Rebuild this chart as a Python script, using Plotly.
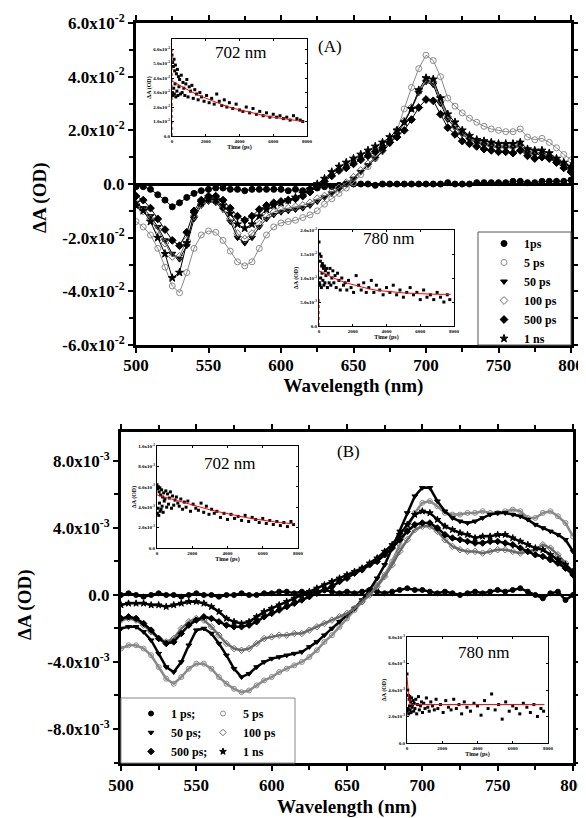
import plotly.graph_objects as go

W, H = 586, 818
SERIF = "Liberation Serif"
PAGE_OFFSET = 8  # the html body margin shifts the figure by this many pixels

wavelength = list(range(500, 801, 5))

# ---- panel (A): dA in units of 1e-2 OD ----
a_1ps = [-0.1, -0.1, -0.2, -0.4, -0.6, -0.85, -0.7, -0.5, -0.35, -0.25,
         -0.2, -0.15, -0.15, -0.2, -0.2, -0.25, -0.2, -0.2, -0.2, -0.2,
         -0.2, -0.25, -0.2, -0.25, -0.2, -0.15, -0.1, -0.1, -0.05, 0.0,
         0.0, 0.0, 0.0, -0.05, 0.0, 0.0, 0.0, 0.0, 0.0, 0.0,
         0.0, 0.0, 0.0, 0.05, 0.0, 0.0, 0.0, 0.05, 0.05, 0.05,
         0.05, 0.05, 0.1, 0.1, 0.05, 0.05, 0.1, 0.1, 0.1, 0.1,
         0.15]
a_5ps = [-1.4, -1.6, -1.9, -2.4, -3.1, -3.8, -4.05, -3.3, -2.4, -1.9,
         -1.75, -1.8, -2.1, -2.5, -2.9, -3.05, -2.9, -2.4, -1.9, -1.6,
         -1.45, -1.4, -1.35, -1.25, -1.15, -1.0, -0.75, -0.55, -0.35, -0.15,
         0.05, 0.35, 0.65, 0.95, 1.25, 1.55, 2.0, 2.8, 3.6, 4.3,
         4.8, 4.6, 4.0, 3.2, 2.9, 2.65, 2.45, 2.3, 2.15, 2.05,
         2.0, 1.95, 1.95, 2.05, 1.75, 1.65, 1.7, 1.55, 1.35, 1.1,
         0.9]
a_50ps = [-0.7, -0.9, -1.2, -1.6, -2.1, -2.6, -2.8, -2.3, -1.3, -0.8,
          -0.65, -0.7, -0.95, -1.4, -2.0, -2.2, -2.0, -1.6, -1.3, -1.15,
          -1.05, -1.0, -0.95, -0.9, -0.8, -0.65, -0.5, -0.35, -0.2, 0.0,
          0.2, 0.45, 0.7, 0.95, 1.2, 1.5, 1.85, 2.3, 2.8, 3.4,
          3.8, 3.7, 3.0, 2.4, 2.1, 1.85, 1.65, 1.55, 1.45, 1.4,
          1.35, 1.35, 1.35, 1.4, 1.15, 1.1, 1.1, 1.0, 0.85, 0.7,
          0.55]
a_100ps = [-0.75, -1.0, -1.3, -1.7, -2.2, -2.7, -2.7, -2.1, -1.2, -0.75,
           -0.6, -0.65, -0.9, -1.3, -1.85, -2.05, -1.85, -1.5, -1.2, -1.05,
           -0.95, -0.9, -0.85, -0.8, -0.7, -0.55, -0.45, -0.3, -0.15, 0.05,
           0.25, 0.5, 0.75, 1.0, 1.25, 1.55, 1.9, 2.35, 2.85, 3.45,
           3.85, 3.8, 3.1, 2.5, 2.15, 1.9, 1.7, 1.6, 1.5, 1.45,
           1.4, 1.4, 1.4, 1.45, 1.2, 1.15, 1.15, 1.05, 0.9, 0.75,
           0.6]
a_500ps = [-0.45, -0.6, -0.9, -1.3, -1.7, -2.1, -2.3, -1.8, -1.0, -0.6,
           -0.45, -0.45, -0.6, -0.9, -1.2, -1.35, -1.2, -0.95, -0.8, -0.7,
           -0.65, -0.6, -0.55, -0.45, -0.3, -0.1, 0.1, 0.3, 0.5, 0.6,
           0.75, 0.9, 1.05, 1.2, 1.35, 1.55, 1.75, 2.0, 2.4, 2.85,
           3.15, 3.1, 2.6, 2.1, 1.85, 1.6, 1.5, 1.4, 1.3, 1.25,
           1.2, 1.2, 1.15, 1.25, 1.05, 0.95, 1.0, 0.95, 0.8, 0.6,
           0.45]
a_1ns = [-0.8, -1.0, -1.4, -2.0, -2.6, -3.5, -3.3, -2.2, -1.1, -0.7,
         -0.55, -0.6, -0.8, -1.1, -1.5, -1.65, -1.5, -1.2, -0.95, -0.8,
         -0.7, -0.6, -0.5, -0.35, -0.2, 0.0, 0.2, 0.45, 0.65, 0.8,
         0.95, 1.1, 1.25, 1.4, 1.55, 1.75, 2.0, 2.3, 2.8, 3.5,
         3.95, 3.9, 3.2, 2.6, 2.3, 2.0, 1.8, 1.65, 1.6, 1.55,
         1.5, 1.5, 1.5, 1.55, 1.3, 1.25, 1.25, 1.15, 0.95, 0.8,
         0.65]

# ---- panel (B): dA in units of 1e-3 OD ----
b_1ps = [0.0, 0.1, 0.0, -0.1, 0.0, 0.1, 0.0, 0.0, -0.1, 0.0,
         0.1, 0.0, 0.0, -0.1, 0.0, 0.0, 0.1, 0.0, 0.0, 0.1,
         0.1, 0.2, 0.2, 0.1, 0.2, 0.1, 0.2, 0.3, 0.2, 0.1,
         0.2, 0.1, 0.2, 0.3, 0.2, 0.1, 0.2, 0.3, 0.4, 0.3,
         0.3, 0.2, 0.1, 0.2, 0.1, 0.0, 0.1, 0.2, 0.1, 0.2,
         0.3, 0.2, 0.3, 0.4, 0.2, 0.0, -0.2, 0.1, 0.2, -0.3,
         0.0]
b_5ps = [-3.2, -3.0, -3.0, -3.2, -3.6, -4.3, -5.0, -5.3, -4.9, -4.4,
         -4.1, -4.1, -4.4, -4.9, -5.3, -5.6, -5.8, -5.7, -5.4, -5.1,
         -4.9, -4.6, -4.4, -4.2, -4.0, -3.7, -3.3, -2.8, -2.4, -1.9,
         -1.4, -0.9, -0.4, 0.1, 0.6, 1.2, 2.0, 3.0, 4.0, 4.9,
         5.5, 5.6, 5.3, 4.9, 4.8, 4.8, 4.9, 4.9, 5.0, 4.9,
         4.9, 5.0, 5.1, 5.0, 4.6, 4.6, 4.9, 5.0, 4.7, 4.3,
         3.5]
b_50ps = [-2.0, -1.9, -1.9, -2.2, -2.7, -3.5, -4.3, -4.6, -4.0, -3.0,
          -2.1, -2.0, -2.3, -2.9, -3.6, -4.4, -4.9, -4.7, -4.3, -4.0,
          -3.8, -3.7, -3.6, -3.5, -3.4, -3.1, -2.8, -2.4, -2.0, -1.6,
          -1.2, -0.8, -0.3, 0.3, 1.0, 1.8, 2.8, 3.8, 4.9, 5.9,
          6.4, 6.4, 5.6, 5.0, 4.6, 4.4, 4.3, 4.4, 4.6, 4.8,
          4.9, 4.9, 4.8, 4.7, 4.5, 4.2, 4.0, 3.8, 3.6, 3.3,
          2.6]
b_100ps = [-1.5, -1.4, -1.5, -1.8, -2.2, -2.6, -2.8, -2.6, -2.0, -1.6,
           -1.4, -1.5, -1.9, -2.4, -2.9, -3.2, -3.3, -3.2, -2.9, -2.6,
           -2.5, -2.4, -2.4, -2.3, -2.3, -2.1, -1.9, -1.7, -1.5, -1.3,
           -1.1, -0.8, -0.4, 0.0, 0.5, 1.1, 1.8, 2.6, 3.3, 3.9,
           4.1, 4.1, 3.8, 3.3, 2.9, 2.7, 2.6, 2.6, 2.5, 2.6,
           2.7, 2.7, 2.6, 2.5, 2.6, 2.7, 3.0, 2.8, 2.4, 1.9,
           1.3]
b_500ps = [-1.4, -1.3, -1.4, -1.7, -2.1, -2.6, -2.9, -2.8, -2.3, -1.8,
           -1.5, -1.3, -1.4, -1.6, -1.8, -1.9, -1.9, -1.8, -1.6, -1.3,
           -1.1, -0.9, -0.7, -0.5, -0.3, -0.1, 0.1, 0.3, 0.5, 0.8,
           1.0, 1.3, 1.5, 1.8, 2.0, 2.4, 2.8, 3.3, 3.8, 4.2,
           4.3, 4.3, 4.0, 3.6, 3.4, 3.3, 3.2, 3.1, 3.1, 3.2,
           3.2, 3.1, 3.0, 2.8, 2.6, 2.4, 2.3, 2.1, 1.9, 1.6,
           1.2]
b_1ns = [-0.6, -0.5, -0.5, -0.5, -0.6, -0.6, -0.7, -0.6, -0.5, -0.4,
         -0.4, -0.5, -0.7, -1.0, -1.4, -1.6, -1.7, -1.6, -1.3, -1.0,
         -0.8, -0.6, -0.4, -0.2, 0.0, 0.2, 0.4, 0.6, 0.8, 1.0,
         1.2, 1.4, 1.6, 1.9, 2.2, 2.6, 3.0, 3.6, 4.2, 4.8,
         5.0, 4.9, 4.5, 4.1, 3.9, 3.7, 3.6, 3.4, 3.5, 3.5,
         3.6, 3.6, 3.4, 3.2, 3.0, 2.8, 2.7, 2.4, 2.1, 1.8,
         1.4]

# ---- inset kinetics ----
decay_time = [0, 20, 40, 60, 80, 100, 120, 140, 160, 180,
              200, 230, 260, 290, 320, 350, 380, 410, 450, 500,
              550, 600, 650, 700, 760, 820, 880, 950, 1020, 1100,
              1180, 1260, 1350, 1450, 1550, 1650, 1750, 1900, 2050, 2200,
              2350, 2500, 2650, 2800, 2950, 3100, 3250, 3400, 3600, 3800,
              4000, 4200, 4400, 4600, 4800, 5000, 5200, 5400, 5600, 5800,
              6000, 6200, 6400, 6600, 6800, 7000, 7200, 7400, 7600, 7750]
a702_kin = [5.6, 3.0, 5.1, 2.8, 4.8, 3.3, 5.3, 2.9, 4.5, 3.6,
            4.9, 2.7, 4.3, 3.1, 4.6, 2.8, 4.1, 3.4, 3.9, 2.9,
            4.2, 3.0, 3.7, 3.3, 2.8, 3.6, 3.9, 2.7, 3.4, 3.1,
            3.5, 2.6, 3.2, 2.9, 2.5, 3.0, 2.7, 2.4, 2.8, 2.3,
            2.6, 2.2, 2.9, 2.4, 2.1, 2.5, 2.0, 2.3, 1.9, 2.2,
            1.8, 1.7, 2.0, 1.6, 1.9, 1.5, 1.7, 1.4, 1.6, 1.3,
            1.5, 1.3, 1.4, 1.2, 1.3, 1.1, 1.4, 1.2, 1.1, 1.0]  # 1e-2
a780_kin = [17.5, 9.0, 15.0, 8.5, 13.5, 10.0, 14.5, 8.0, 12.5, 11.0,
            13.0, 9.5, 12.0, 8.5, 12.5, 9.0, 11.5, 10.5, 12.0, 8.0,
            11.0, 9.0, 12.0, 8.5, 10.0, 11.5, 9.0, 10.5, 8.0, 11.0,
            9.5, 7.5, 10.0, 8.5, 9.0, 7.5, 9.5, 8.0, 7.0, 10.5,
            8.5, 7.5, 9.0, 7.0, 8.0, 9.5, 7.0, 8.5, 7.5, 6.5,
            8.0, 7.0, 8.5, 6.5, 7.5, 6.0, 7.0, 8.0, 6.5, 7.0,
            5.5, 7.5, 6.0, 6.5, 5.5, 7.0, 6.0, 5.0, 6.5, 5.5]  # 1e-3
b702_kin = [6.2, 3.4, 5.8, 3.9, 6.0, 3.2, 5.5, 4.4, 5.9, 3.6,
            5.2, 3.8, 5.7, 4.1, 5.0, 3.5, 5.4, 4.6, 4.8, 5.6,
            4.0, 5.3, 4.3, 4.9, 5.5, 3.9, 5.1, 4.2, 4.7, 5.0,
            4.4, 4.1, 4.8, 3.8, 4.5, 4.0, 4.6, 3.6, 4.3, 3.9,
            3.7, 4.4, 3.5, 4.1, 3.3, 3.8, 3.4, 3.6, 3.0, 3.4,
            2.8, 3.3, 2.9, 3.1, 2.7, 3.2, 2.6, 3.0, 2.8, 2.5,
            2.9, 2.4, 2.7, 2.3, 2.6, 2.2, 2.5, 2.1, 2.6, 2.3]  # 1e-3
b780_kin = [5.2, 2.4, 4.0, 2.6, 3.6, 2.2, 3.3, 2.8, 3.5, 2.5,
            3.1, 2.3, 3.4, 2.7, 2.9, 3.2, 2.4, 3.0, 2.6, 3.3,
            2.2, 2.9, 3.5, 2.5, 2.8, 3.1, 2.3, 3.0, 2.6, 3.4,
            2.7, 2.4, 3.1, 2.8, 2.5, 3.3, 2.6, 2.9, 2.3, 3.2,
            2.7, 2.5, 3.3, 2.6, 2.9, 2.2, 3.1, 2.7, 2.4, 3.0,
            2.8, 2.1, 3.2, 2.6, 3.7, 2.5, 2.9, 1.8, 3.1, 2.4,
            2.8, 2.6, 2.2, 3.0, 2.7, 2.3, 2.9, 2.0, 2.6, 2.4]  # 1e-3

fit_time = [0, 500, 1000, 1500, 2000, 2500, 3000, 3500, 4000,
            4500, 5000, 5500, 6000, 6500, 7000, 7500, 7800]
a702_fit = [3.8, 3.45, 3.15, 2.85, 2.6, 2.35, 2.15, 1.95, 1.8,
            1.65, 1.5, 1.4, 1.3, 1.2, 1.1, 1.05, 1.0]
a780_fit = [11.5, 10.6, 9.8, 9.1, 8.6, 8.1, 7.7, 7.4, 7.2,
            7.0, 6.9, 6.8, 6.7, 6.65, 6.6, 6.6, 6.6]
b702_fit = [5.2, 4.95, 4.7, 4.45, 4.2, 4.0, 3.75, 3.55, 3.35,
            3.2, 3.0, 2.85, 2.7, 2.6, 2.5, 2.4, 2.35]
b780_fit_time = [0, 50, 100, 150, 200, 300, 500, 1000, 2000,
                 3000, 4000, 5000, 6000, 7000, 7800]
b780_fit = [5.0, 4.0, 3.4, 3.1, 2.95, 2.9, 2.9, 2.9, 2.9,
            2.9, 2.9, 2.9, 2.9, 2.9, 2.9]
# red dotted rise at t = 0 in the panel (A) insets
a702_rise = [0.0, 6.0]   # 1e-2
a780_rise = [0.0, 6.0]   # 1e-3

labels_a = ["1ps", "5 ps", "50 ps", "100 ps", "500 ps", "1 ns"]
labels_b = ["1 ps;", "5 ps", "50 ps;", "100 ps", "500 ps;", "1 ns"]

# symbol, colour
styles = [("circle", "black"), ("circle-open", "#8a8a8a"),
          ("triangle-down", "black"), ("diamond-open", "#6a6a6a"),
          ("diamond", "black"), ("star", "black")]


def px(x):
    return (x - PAGE_OFFSET) / W


def py(y):
    return 1 - (y - PAGE_OFFSET) / H


fig = go.Figure()

# panel (A) spectra
for lab, vals, (sym, col) in zip(labels_a, [a_1ps, a_5ps, a_50ps, a_100ps, a_500ps, a_1ns], styles):
    yv = [v * 1e-2 for v in vals]
    fig.add_trace(go.Scatter(x=wavelength, y=yv, mode="lines", line=dict(color=col, width=1),
                             showlegend=False, xaxis="x", yaxis="y", hoverinfo="skip"))
    fig.add_trace(go.Scatter(x=wavelength, y=yv, mode="markers", name=lab, legend="legend",
                             marker=dict(symbol=sym, color=col, size=6, line=dict(width=1, color=col)),
                             xaxis="x", yaxis="y"))

# panel (B) spectra
for i, (lab, vals, (sym, col)) in enumerate(zip(labels_b, [b_1ps, b_5ps, b_50ps, b_100ps, b_500ps, b_1ns], styles)):
    yv = [v * 1e-3 for v in vals]
    fig.add_trace(go.Scatter(x=wavelength, y=yv, mode="lines", line=dict(color=col, width=2.5),
                             showlegend=False, xaxis="x2", yaxis="y2", hoverinfo="skip"))
    fig.add_trace(go.Scatter(x=wavelength, y=yv, mode="markers", name=lab,
                             legend="legend2" if i % 2 == 0 else "legend3",
                             marker=dict(symbol=sym, color=col, size=5, line=dict(width=1, color=col)),
                             xaxis="x2", yaxis="y2"))

# insets
insets = [
    ("x3", "y3", a702_kin, 1e-2, fit_time, a702_fit, a702_rise),
    ("x4", "y4", a780_kin, 1e-3, fit_time, a780_fit, a780_rise),
    ("x5", "y5", b702_kin, 1e-3, fit_time, b702_fit, None),
    ("x6", "y6", b780_kin, 1e-3, b780_fit_time, b780_fit, None),
]
for xa, ya, kin, scale, ft, fv, rise in insets:
    fig.add_trace(go.Scatter(x=decay_time, y=[v * scale for v in kin], mode="markers",
                             marker=dict(symbol="square", color="black", size=3),
                             showlegend=False, xaxis=xa, yaxis=ya))
    fig.add_trace(go.Scatter(x=ft, y=[v * scale for v in fv], mode="lines",
                             line=dict(color="red", width=1), showlegend=False, xaxis=xa, yaxis=ya))
    if rise is not None:
        fig.add_trace(go.Scatter(x=[0, 0], y=[v * scale for v in rise],
                                 mode="lines", line=dict(color="red", width=1.2, dash="dot"),
                                 showlegend=False, xaxis=xa, yaxis=ya))

tickfont = dict(family=SERIF, size=17, color="black", weight="bold")
main_ax = dict(showline=True, linewidth=3, linecolor="black", mirror="ticks",
               ticks="outside", ticklen=5, tickwidth=2, tickcolor="black",
               showgrid=False, tickfont=tickfont, automargin=False)


def sup(m, e):
    return "%sx10<sup>%d</sup>" % (m, e)


ya_vals = [-0.06, -0.04, -0.02, 0.0, 0.02, 0.04, 0.06]
ya_text = [sup("-6.0", -2), sup("-4.0", -2), sup("-2.0", -2), "0.0",
           sup("2.0", -2), sup("4.0", -2), sup("6.0", -2)]
yb_vals = [-0.008, -0.004, 0.0, 0.004, 0.008]
yb_text = [sup("-8.0", -3), sup("-4.0", -3), "0.0", sup("4.0", -3), sup("8.0", -3)]
x_vals = [500, 550, 600, 650, 700, 750, 800]

xtitle_font = dict(family=SERIF, size=19, color="black", weight="bold")
minor_x = dict(tickmode="linear", tick0=500, dtick=25, ticks="outside",
               ticklen=4, tickwidth=2, tickcolor="black")

fig.update_layout(
    xaxis=dict(main_ax, domain=[px(136), px(571)], range=[500, 800], anchor="y",
               tickvals=x_vals, minor=minor_x, ticklabelstandoff=-2,
               title=dict(text="Wavelength (nm)", font=xtitle_font, standoff=0)),
    yaxis=dict(main_ax, domain=[py(345), py(23)], range=[-0.06, 0.06], anchor="x",
               tickvals=ya_vals, ticktext=ya_text, zeroline=True, zerolinecolor="black",
               zerolinewidth=3,
               minor=dict(tickmode="linear", tick0=0, dtick=0.01, ticks="outside",
                          ticklen=4, tickwidth=2, tickcolor="black")),
    xaxis2=dict(main_ax, domain=[px(121), px(573)], range=[500, 800], anchor="y2",
                tickvals=x_vals, minor=minor_x,
                title=dict(text="Wavelength (nm)", font=xtitle_font, standoff=6)),
    yaxis2=dict(main_ax, domain=[py(763), py(432)], range=[-0.01003, 0.00973], anchor="x2",
                tickvals=yb_vals, ticktext=yb_text, zeroline=True, zerolinecolor="black",
                zerolinewidth=2,
                minor=dict(tickmode="linear", tick0=0, dtick=0.002, ticks="outside",
                           ticklen=4, tickwidth=2, tickcolor="black")),
)

inset_font = dict(family=SERIF, size=5, color="black", weight="bold")
inset_title_font = dict(family=SERIF, size=6, color="black", weight="bold")
inset_ax = dict(showline=True, linewidth=1, linecolor="black", mirror="ticks",
                ticks="inside", ticklen=2, tickwidth=0.6, tickcolor="black",
                showgrid=False, zeroline=False, tickfont=inset_font, automargin=False)
t_vals = [0, 2000, 4000, 6000, 8000]

inset_specs = [
    # axis number, left, top, right, bottom (px), y max, y ticks
    (3, 172, 39, 307, 136, 0.067, [0, 0.01, 0.02, 0.03, 0.04, 0.05, 0.06],
     ["0.0"] + [sup("%.1f" % v, -2) for v in [1, 2, 3, 4, 5, 6]]),
    (4, 319, 230, 454, 326, 0.02, [0, 0.005, 0.01, 0.015, 0.02],
     ["0.0", sup("5.0", -3), sup("1.0", -2), sup("1.5", -2), sup("2.0", -2)]),
    (5, 157, 446, 298, 548, 0.01, [0, 0.002, 0.004, 0.006, 0.008, 0.01],
     ["0.0", sup("2.0", -3), sup("4.0", -3), sup("6.0", -3), sup("8.0", -3), sup("1.0", -2)]),
    (6, 407, 637, 548, 743, 0.008, [0, 0.002, 0.004, 0.006, 0.008],
     ["0.0", sup("2.0", -3), sup("4.0", -3), sup("6.0", -3), sup("8.0", -3)]),
]
for n, l, t, r, b, ymax, yv, yt in inset_specs:
    fig.update_layout({
        "xaxis%d" % n: dict(inset_ax, domain=[px(l), px(r)], range=[0, 8000], anchor="y%d" % n,
                            tickvals=t_vals,
                            title=dict(text="Time (ps)", font=inset_title_font, standoff=0)),
        "yaxis%d" % n: dict(inset_ax, domain=[py(b), py(t)], range=[0, ymax], anchor="x%d" % n,
                            tickvals=yv, ticktext=yt,
                            title=dict(text="\u0394A (OD)", font=inset_title_font, standoff=0)),
    })

legend_font = dict(family=SERIF, size=12, color="black", weight="bold")
fig.update_layout(
    legend=dict(x=px(484), y=py(229), xanchor="left", yanchor="top", font=legend_font,
                bgcolor="rgba(0,0,0,0)", itemwidth=30, tracegroupgap=0),
    legend2=dict(x=px(131), y=py(699), xanchor="left", yanchor="top", font=legend_font,
                 bgcolor="rgba(0,0,0,0)", itemwidth=30),
    legend3=dict(x=px(203), y=py(699), xanchor="left", yanchor="top", font=legend_font,
                 bgcolor="rgba(0,0,0,0)", itemwidth=30),
)

fig.add_shape(type="rect", xref="paper", yref="paper", x0=px(478), x1=px(571), y0=py(345), y1=py(232),
              line=dict(color="#555555", width=1))
fig.add_shape(type="rect", xref="paper", yref="paper", x0=px(121), x1=px(295), y0=py(763), y1=py(698),
              line=dict(color="#888888", width=1))

ann_font = dict(family=SERIF, size=17, color="black")
for txt, x, y in [("(A)", 330, 46), ("(B)", 348, 451), ("702 nm", 240, 53), ("780 nm", 388, 238),
                  ("702 nm", 230, 463), ("780 nm", 483, 652)]:
    fig.add_annotation(text=txt, x=px(x), y=py(y), xref="paper", yref="paper", showarrow=False,
                       xanchor="center", yanchor="middle", font=ann_font)
ytitle_font = dict(family=SERIF, size=19, color="black", weight="bold")
fig.add_annotation(text="\u0394A (OD)", x=px(40), y=py(198), xref="paper", yref="paper",
                   showarrow=False, textangle=-90, xanchor="center", yanchor="middle",
                   font=ytitle_font)
fig.add_annotation(text="\u0394A (OD)", x=px(25), y=py(605), xref="paper", yref="paper",
                   showarrow=False, textangle=-90, xanchor="center", yanchor="middle",
                   font=ytitle_font)

fig.update_layout(width=W, height=H, margin=dict(l=0, r=0, t=0, b=0, autoexpand=False),
                  paper_bgcolor="white", plot_bgcolor="white")

fig.write_html("out.html")
